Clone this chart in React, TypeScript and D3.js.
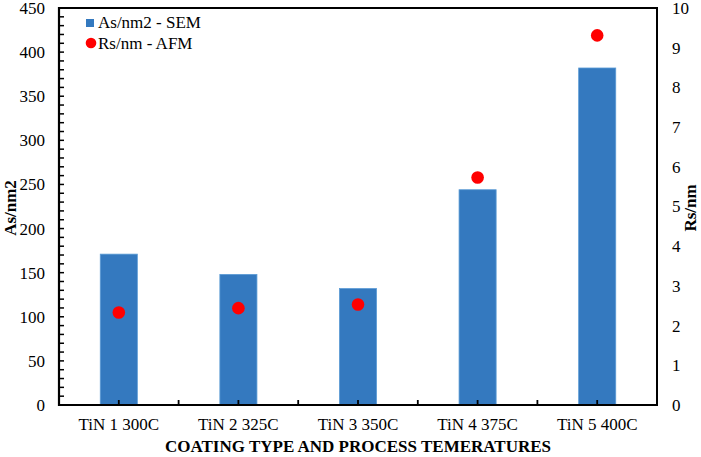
import { useEffect, useRef } from "react";
import * as d3 from "d3";

const categories = ["TiN 1 300C", "TiN 2 325C", "TiN 3 350C", "TiN 4 375C", "TiN 5 400C"];
const asSem = [171, 148, 132, 244, 382];
const rsAfm = [2.33, 2.44, 2.53, 5.73, 9.31];
const leftTicks = [0, 50, 100, 150, 200, 250, 300, 350, 400, 450];
const rightTicks = [0, 1, 2, 3, 4, 5, 6, 7, 8, 9, 10];

const FONT = "Liberation Serif, Times New Roman, DejaVu Serif, serif";
const BAR = "#3479BF";

export default function App() {
  const svgRef = useRef<SVGSVGElement>(null);

  useEffect(() => {
    if (!svgRef.current) return;
    const svg = d3.select(svgRef.current);
    svg.selectAll("*").remove();

    const width = 701;
    const height = 457;
    const left = 59;
    const right = 657;
    const top = 8;
    const bottom = 405;

    svg.attr("width", width).attr("height", height);
    svg.append("rect").attr("width", width).attr("height", height).attr("fill", "#fff");

    const x = d3.scaleBand<string>().domain(categories).range([left, right]).paddingInner(0).paddingOuter(0);
    const yL = d3.scaleLinear().domain([0, 450]).range([bottom, top]);
    const yR = d3.scaleLinear().domain([0, 10]).range([bottom, top]);
    const barW = x.bandwidth() * 0.31;

    // Bars
    svg.append("g")
      .selectAll("rect")
      .data(asSem)
      .join("rect")
      .attr("x", (_, i) => x(categories[i])! + x.bandwidth() / 2 - barW / 2)
      .attr("y", (d) => yL(d))
      .attr("width", barW)
      .attr("height", (d) => yL(0) - yL(d))
      .attr("fill", BAR)
      .attr("stroke", "#5b9bd5")
      .attr("stroke-width", 0.8);

    // Frame (top and right)
    svg.append("path")
      .attr("d", `M${left},${top}H${right}V${bottom}`)
      .attr("fill", "none")
      .attr("stroke", "#000")
      .attr("stroke-width", 2);

    // Left axis with minor ticks
    const minor = d3.range(0, 451, 10);
    svg.append("g")
      .selectAll("line")
      .data(minor)
      .join("line")
      .attr("x1", left)
      .attr("x2", left + 5)
      .attr("y1", (d) => yL(d))
      .attr("y2", (d) => yL(d))
      .attr("stroke", "#000")
      .attr("stroke-width", 1.5);
    svg.append("line")
      .attr("x1", left).attr("x2", left)
      .attr("y1", top - 1).attr("y2", bottom + 1)
      .attr("stroke", "#000").attr("stroke-width", 2.2);

    svg.append("g")
      .selectAll("text")
      .data(leftTicks)
      .join("text")
      .attr("x", left - 14)
      .attr("y", (d) => yL(d))
      .attr("dy", "0.35em")
      .attr("text-anchor", "end")
      .style("font-family", FONT)
      .style("font-size", "17px")
      .text((d) => d);

    // Right axis labels
    svg.append("g")
      .selectAll("text")
      .data(rightTicks)
      .join("text")
      .attr("x", right + 15)
      .attr("y", (d) => yR(d))
      .attr("dy", "0.35em")
      .attr("text-anchor", "start")
      .style("font-family", FONT)
      .style("font-size", "17px")
      .text((d) => d);

    // X axis
    const xTickPos: number[] = [];
    categories.forEach((c) => {
      xTickPos.push(x(c)!);
      xTickPos.push(x(c)! + x.bandwidth() / 2);
    });
    xTickPos.push(right);
    svg.append("g")
      .selectAll("line")
      .data(xTickPos)
      .join("line")
      .attr("x1", (d) => d)
      .attr("x2", (d) => d)
      .attr("y1", bottom)
      .attr("y2", bottom - 5)
      .attr("stroke", "#000")
      .attr("stroke-width", 1.8);
    svg.append("line")
      .attr("x1", left - 1).attr("x2", right + 1)
      .attr("y1", bottom).attr("y2", bottom)
      .attr("stroke", "#000").attr("stroke-width", 2.2);

    svg.append("g")
      .selectAll("text")
      .data(categories)
      .join("text")
      .attr("x", (d) => x(d)! + x.bandwidth() / 2)
      .attr("y", 430)
      .attr("text-anchor", "middle")
      .style("font-family", FONT)
      .style("font-size", "17px")
      .text((d) => d);

    // Dots
    svg.append("g")
      .selectAll("circle")
      .data(rsAfm)
      .join("circle")
      .attr("cx", (_, i) => x(categories[i])! + x.bandwidth() / 2)
      .attr("cy", (d) => yR(d))
      .attr("r", 6.3)
      .attr("fill", "#ff0000");

    // Axis titles
    svg.append("text")
      .attr("x", 358)
      .attr("y", 452)
      .attr("text-anchor", "middle")
      .style("font-family", FONT)
      .style("font-size", "17px")
      .style("font-weight", "bold")
      .text("COATING TYPE AND PROCESS TEMERATURES");

    svg.append("text")
      .attr("transform", `translate(16,208) rotate(-90)`)
      .attr("text-anchor", "middle")
      .style("font-family", FONT)
      .style("font-size", "17px")
      .style("font-weight", "bold")
      .text("As/nm2");

    svg.append("text")
      .attr("transform", `translate(696,208) rotate(-90)`)
      .attr("text-anchor", "middle")
      .style("font-family", FONT)
      .style("font-size", "17px")
      .style("font-weight", "bold")
      .text("Rs/nm");

    // Legend
    const lg = svg.append("g").style("font-family", FONT).style("font-size", "17px");
    lg.append("rect").attr("x", 86).attr("y", 19).attr("width", 8).attr("height", 8).attr("fill", BAR);
    lg.append("text").attr("x", 98).attr("y", 28).text("As/nm2 - SEM");
    lg.append("circle").attr("cx", 91).attr("cy", 43).attr("r", 5.3).attr("fill", "#ff0000");
    lg.append("text").attr("x", 98).attr("y", 49).text("Rs/nm - AFM");
  }, []);

  return (
    <div style={{ position: "absolute", left: 0, top: 0, width: 701, height: 457 }}>
      <svg ref={svgRef} style={{ display: "block" }} />
    </div>
  );
}
